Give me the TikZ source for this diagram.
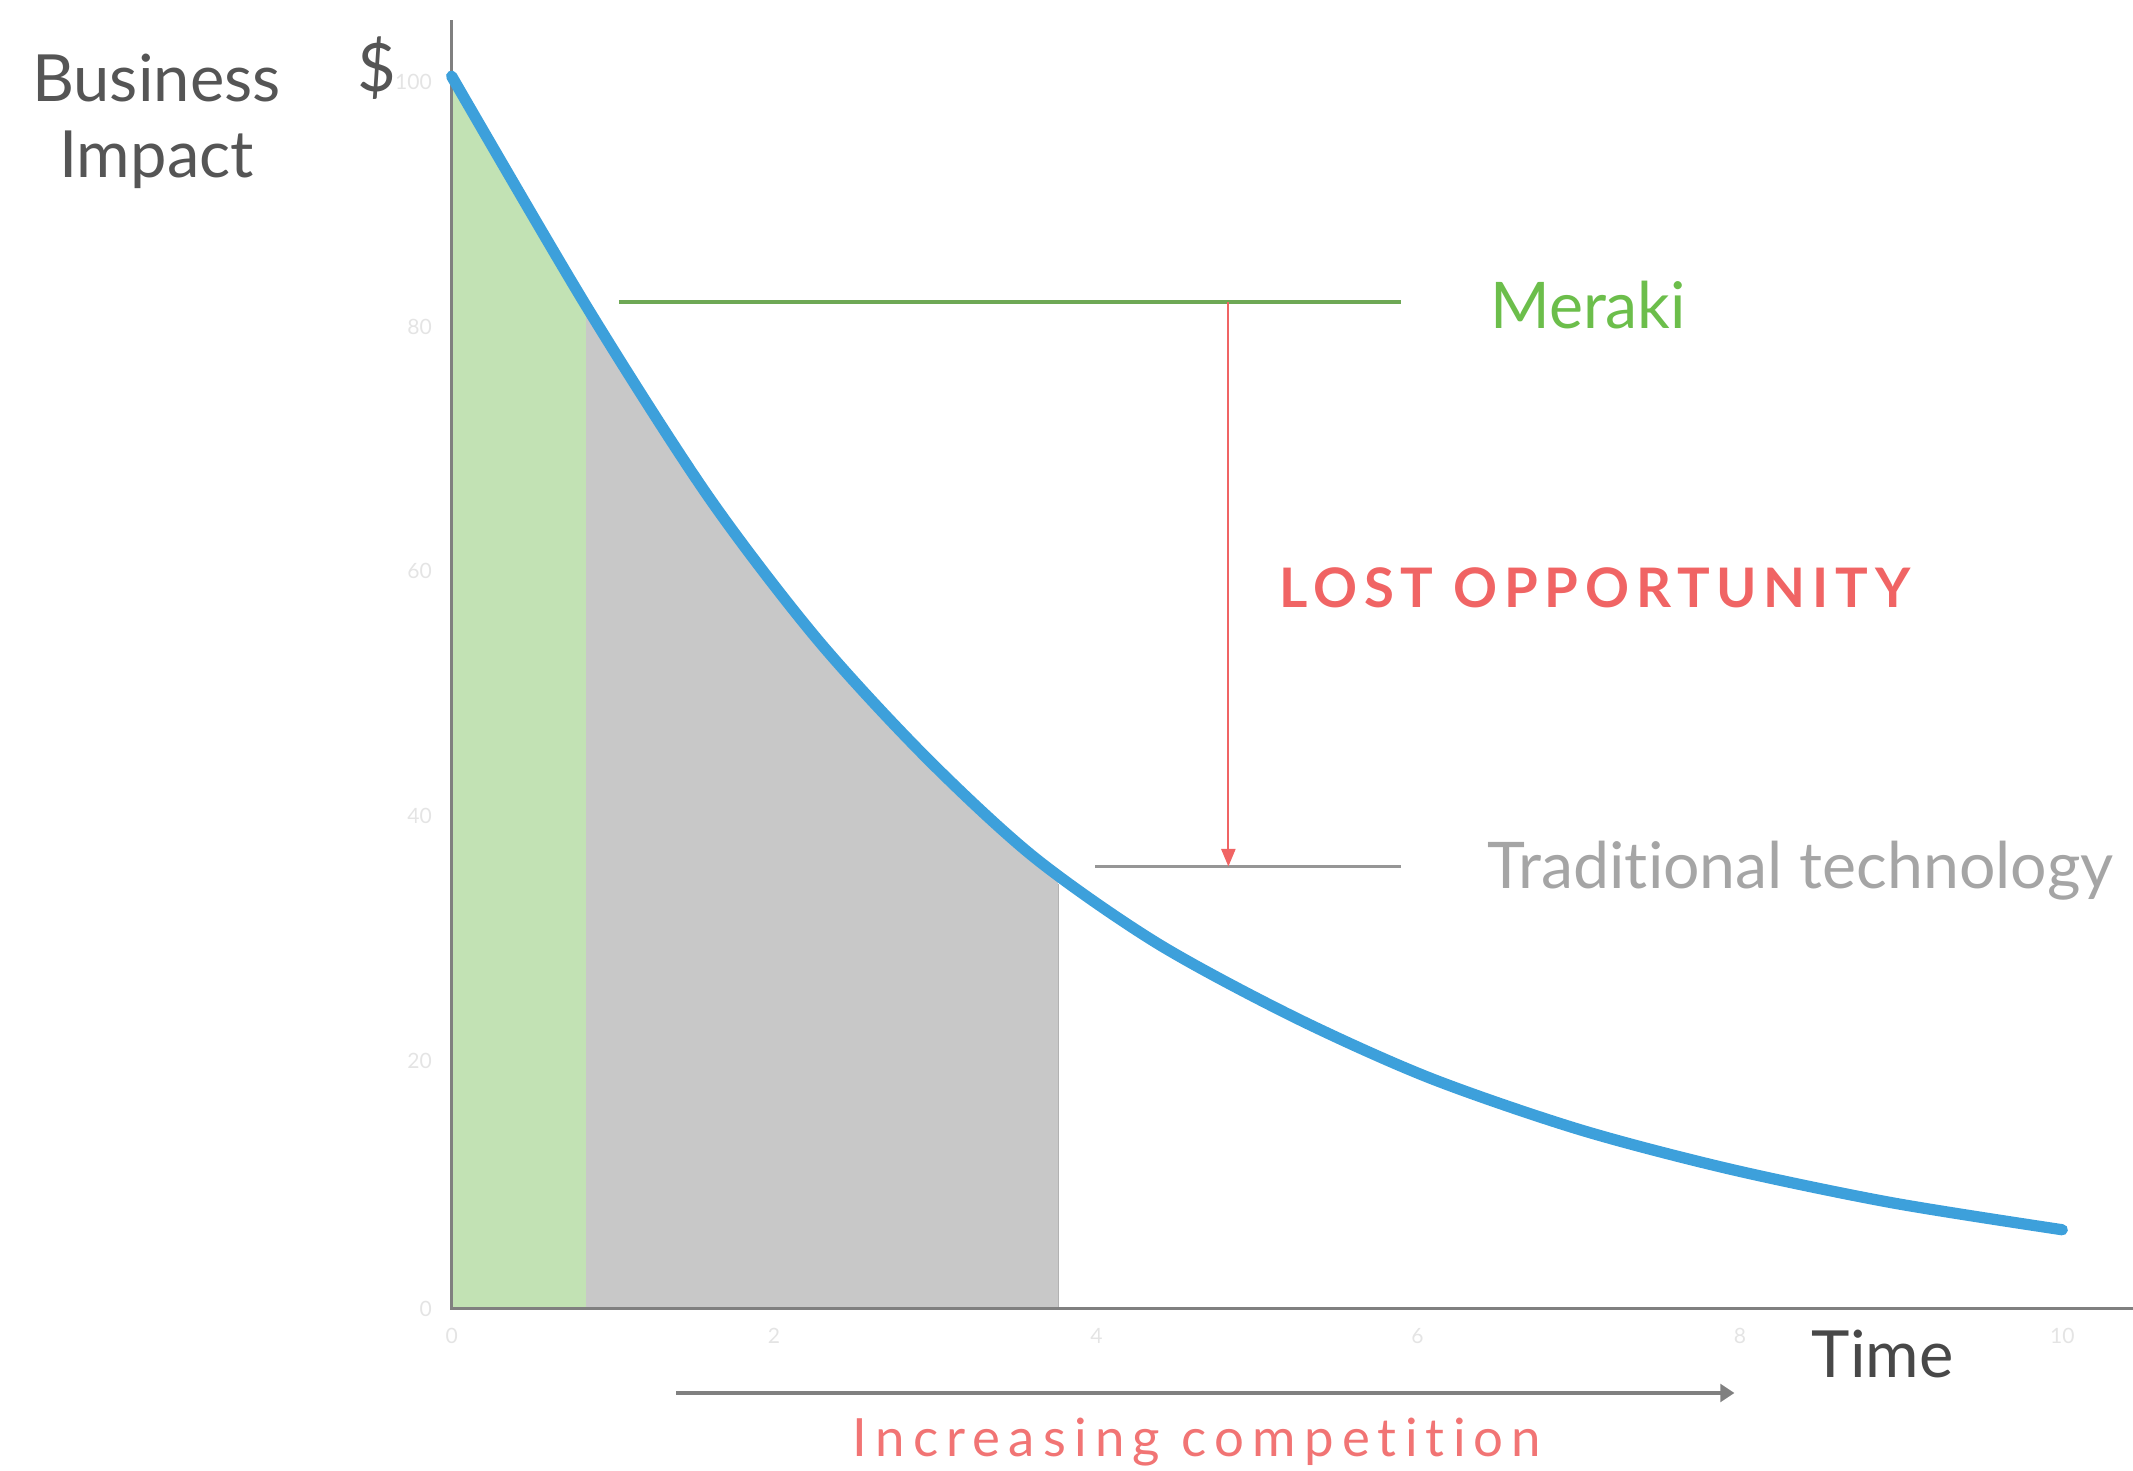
\documentclass[tikz,border=0pt]{standalone}
\usepackage{fontspec}
\setmainfont{Lato}[Ligatures=NoCommon]
\usetikzlibrary{arrows.meta}
\definecolor{curveblue}{RGB}{61,160,219}
\definecolor{fillgreen}{RGB}{194,226,180}
\definecolor{fillgray}{RGB}{200,200,200}
\definecolor{axisgray}{RGB}{128,128,128}
\definecolor{lvlgreen}{RGB}{110,168,85}
\definecolor{txtgreen}{RGB}{108,190,75}
\definecolor{lvlgray}{RGB}{150,150,150}
\definecolor{txtgray}{RGB}{165,165,165}
\definecolor{lossred}{RGB}{240,100,100}
\definecolor{darktxt}{RGB}{85,85,85}
\definecolor{ticktxt}{RGB}{228,228,228}
\tikzset{
  axisline/.style={draw=axisgray, line width=1pt},
  ticklabel/.style={text=ticktxt, font=\fontsize{6}{7}\selectfont, inner sep=0pt},
  leveltext/.style={anchor=west, inner sep=0pt, font=\fontsize{18.3}{22}\selectfont},
  curveline/.style={draw=curveblue, line width=3.2pt, line cap=round, line join=round},
}
\begin{document}
\begin{tikzpicture}[x=0.013603cm, y=-0.013603cm]
\useasboundingbox (0,0) rectangle (1568,1081);
\def\curvepts{(332,56) (431,225) (520,364) (600,469) (680,556) (760,630) (850,693) (950,747) (1050,792) (1160,830) (1270,859) (1390,884) (1516,904)}
% fills under the curve
\begin{scope}
  \clip (332,962) -- plot[smooth] coordinates {\curvepts} -- (1516,962) -- cycle;
  \fill[fillgreen] (332,0) rectangle (431,962);
  \fill[fillgray] (431,0) rectangle (778,962);
\end{scope}
\draw[draw=black!30, line width=0.4pt] (778,650) -- (778,962);
% axes
\coordinate (yaxtop) at (332,15);
\coordinate (origin) at (332,962);
\coordinate (xaxend) at (1568,962);
\draw[axisline] (yaxtop) -- (origin) -- (xaxend);
% tick labels
\foreach \v/\yy in {100/60, 80/240, 60/420, 40/600, 20/780, 0/962}
  \node[ticklabel, anchor=east] at (318,\yy) {\v};
\foreach \v/\xx in {0/332, 2/569, 4/806, 6/1042, 8/1279, 10/1516}
  \node[ticklabel] at (\xx,982) {\v};
% curve
\draw[curveline] plot[smooth] coordinates {\curvepts};
% level lines
\coordinate (mkA) at (455,222);
\coordinate (mkB) at (1030,222);
\coordinate (trA) at (805,637);
\coordinate (trB) at (1030,637);
\draw[draw=lvlgreen, line width=1pt] (mkA) -- (mkB);
\draw[draw=lvlgray, line width=1pt] (trA) -- (trB);
\coordinate (lossTop) at (903,222);
\coordinate (lossBot) at (903,637);
\draw[draw=lossred, line width=0.6pt, -{Triangle[width=4pt,length=5pt]}] (lossTop) -- (lossBot);
% labels
\node[leveltext, text=txtgreen] (meraki) at (1095,224) {Meraki};
\node[leveltext, text=txtgray] (trad) at (1093,640) {Traditional technology};
\node[anchor=west, inner sep=0pt, text=lossred, font=\fontsize{15.5}{18}\bfseries\addfontfeature{LetterSpace=12.5}] (lost) at (940,432) {LOST OPPORTUNITY};
\node[align=center, text=darktxt, font=\fontsize{18.5}{21.5}\selectfont] (bi) at (115,89) {Business\\Impact};
\node[text=darktxt, font=\fontsize{19}{22}\selectfont, inner sep=0pt] (dollar) at (277,50) {\$};
\node[text=darktxt!85!black, font=\fontsize{18.5}{22}\selectfont, inner sep=0pt] (time) at (1384,995) {Time};
% competition arrow
\coordinate (compA) at (497,1024);
\coordinate (compB) at (1275,1024);
\draw[draw=axisgray, line width=1pt, -{Triangle[width=5pt,length=4pt]}] (compA) -- (compB);
\node[text=lossred!90, font=\fontsize{15}{18}\selectfont\addfontfeature{LetterSpace=15.5}, inner sep=0pt] (comp) at (880,1060) {Increasing competition};
\end{tikzpicture}
\end{document}
